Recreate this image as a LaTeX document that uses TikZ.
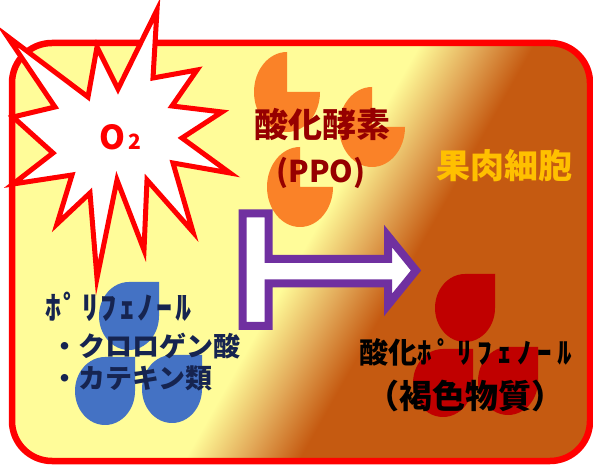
\documentclass[tikz,border=0pt]{standalone}
\usepackage{fontspec}
\newfontfamily\jpfont{Noto Sans CJK JP}
\usetikzlibrary{positioning}

\definecolor{pulpyellow}{RGB}{255,252,153}
\definecolor{pulptan}{RGB}{226,168,88}
\definecolor{pulpbrown}{RGB}{197,90,17}
\definecolor{ppoorange}{RGB}{250,130,40}
\definecolor{ppored}{RGB}{150,0,0}
\definecolor{phenolblue}{RGB}{68,114,196}
\definecolor{phenolnavy}{RGB}{22,36,80}
\definecolor{brownred}{RGB}{192,0,0}
\definecolor{cellgold}{RGB}{255,192,0}
\definecolor{arrowpurple}{RGB}{112,48,160}

% yellow flesh turning brown
\pgfdeclarehorizontalshading{pulpfade}{100bp}{color(0bp)=(pulpyellow); color(47.4bp)=(pulpyellow); color(50bp)=(pulptan); color(52.4bp)=(pulpbrown); color(100bp)=(pulpbrown)}

% tracked half-width kana
\newcommand{\kana}[2]{{\addfontfeatures{LetterSpace=#1}#2}}

\begin{document}
\begin{tikzpicture}[x=1pt, y=1pt,
    cellwall/.style={draw=red, line width=6.5pt, rounded corners=40pt},
    enzyme/.style={fill=ppoorange},
    phenol/.style={fill=phenolblue},
    browned/.style={fill=brownred},
    burst/.style={draw=red, fill=white, line width=5pt, line join=miter},
    tarrow/.style={draw=arrowpurple, fill=white, line width=8pt, line join=miter},
    jp/.style={font=\jpfont\bfseries, inner sep=0pt}
]
    \useasboundingbox (0,0) rectangle (593,465);

    % Cell background
    \begin{scope}
        \clip[rounded corners=40pt] (12,4) rectangle (590,422);
        \begin{scope}[transform canvas={rotate around={-29.5:(360,210)}}]
            \shade[shading=pulpfade] (-140,-290) rectangle (860,710);
        \end{scope}
    \end{scope}
    \draw[cellwall] (12,4) rectangle (590,422);

    % PPO molecules
    \foreach \cx/\cy in {287/373, 372/338, 300/278}
        \fill[enzyme] (\cx,\cy+40) arc[start angle=90, end angle=360, x radius=33pt, y radius=40pt] -- (\cx,\cy) -- cycle;

    % Polyphenol drops
    \foreach \cx/\cy in {129/149, 105/74, 172/76}
        \fill[phenol] (\cx,\cy+34) arc[start angle=90, end angle=360, x radius=30pt, y radius=34pt] -- ++(0,34) -- cycle;

    % Oxidised drops
    \foreach \cx/\cy in {465/157, 443/82, 508/84}
        \fill[browned] (\cx,\cy+34) arc[start angle=90, end angle=360, x radius=30pt, y radius=34pt] -- ++(0,34) -- cycle;

    % Labels
    \node[jp, text=ppored, font=\jpfont\bfseries\fontsize{34}{36}\selectfont] (enzlbl) at (322,341) {酸化酵素};
    \node[jp, text=ppored, font=\jpfont\bfseries\fontsize{30}{32}\selectfont] (ppo) at (321,292) {(PPO)};
    \node[jp, text=cellgold, font=\jpfont\bfseries\fontsize{34}{36}\selectfont] (pulp) at (504,299) {果肉細胞};

    \node[jp, text=phenolnavy, anchor=west, font=\jpfont\bfseries\fontsize{32}{34}\selectfont] (phenollbl) at (45,158) {\kana{8}{ﾎﾟﾘﾌｪﾉｰﾙ}};
    \node[jp, text=phenolnavy, anchor=west, font=\jpfont\bfseries\fontsize{27}{29}\selectfont] (chlorogenic) at (51,119) {・クロロゲン酸};
    \node[jp, text=phenolnavy, anchor=west, font=\jpfont\bfseries\fontsize{27}{29}\selectfont] (catechin) at (51,87) {・カテキン類};

    \node[jp, text=black, font=\jpfont\bfseries\fontsize{29}{31}\selectfont] (oxlbl) at (466,113) {酸化\kana{19}{ﾎﾟﾘﾌｪﾉｰﾙ}};
    \node[jp, text=black, font=\jpfont\bfseries\fontsize{33}{35}\selectfont] (pigment) at (465,69) {（褐色物質）};

    % Reaction arrow
    \draw[tarrow] (242.5,251.5) -- (268.5,251.5) -- (268.5,206) -- (388,206) -- (388,229)
        -- (416,194.5) -- (388,160) -- (388,181.5) -- (268.5,181.5) -- (268.5,139)
        -- (242.5,139) -- cycle;

    % Oxygen burst
    \draw[burst] (7,429) -- (88,368) -- (97,418) -- (118,376) -- (157,455) -- (153,387)
        -- (197,395) -- (172,359) -- (222,353) -- (182,327) -- (230,292) -- (173,302)
        -- (193,233) -- (147,285) -- (144,215) -- (117,285) -- (97,187) -- (90,272)
        -- (57,241) -- (72,290) -- (13,281) -- (53,312) -- (13,348) -- (55,358) -- cycle;
    \node[text=red, inner sep=0pt, font=\jpfont\bfseries\fontsize{33}{33}\selectfont] (oxygen) at (120,328)
        {O\hspace{3pt}{\fontsize{21}{21}\selectfont 2}};
\end{tikzpicture}
\end{document}
